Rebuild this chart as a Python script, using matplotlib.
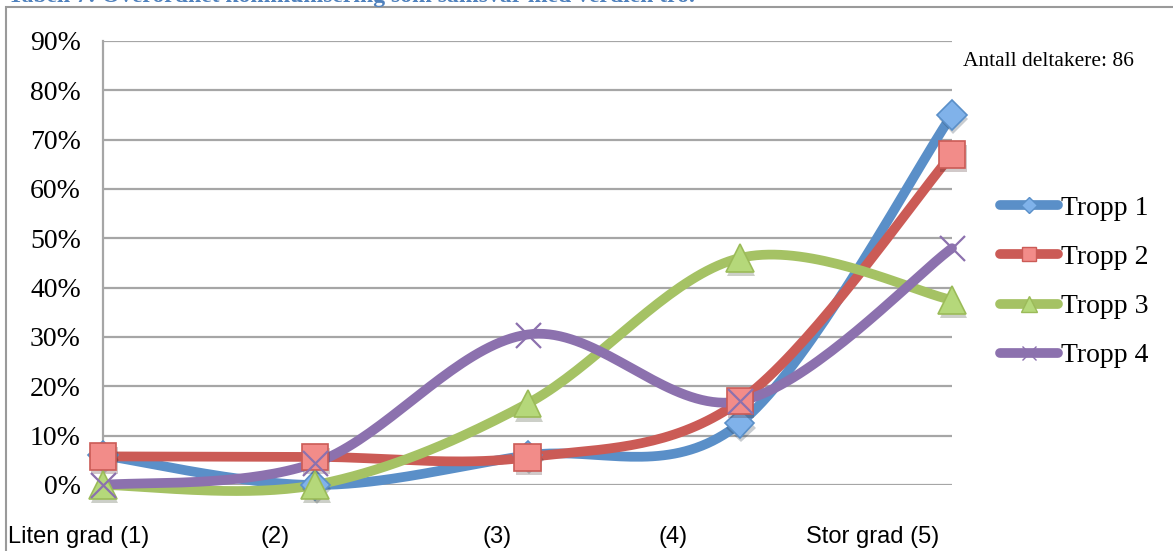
import numpy as np
import matplotlib

matplotlib.use('Agg')
import matplotlib.pyplot as plt
from matplotlib.lines import Line2D
from matplotlib.patches import Rectangle
import matplotlib.patheffects as pe

# Data (share of participants per answer category)
categories = [1, 2, 3, 4, 5]
cat_labels = ['Liten grad (1)', '(2)', '(3)', '(4)', 'Stor grad (5)']
tropp1 = [0.06, 0.00, 0.06, 0.125, 0.75]
tropp2 = [0.058, 0.057, 0.056, 0.17, 0.67]
tropp3 = [0.00, 0.00, 0.165, 0.46, 0.375]
tropp4 = [0.00, 0.045, 0.305, 0.17, 0.48]
names = ['Tropp 1', 'Tropp 2', 'Tropp 3', 'Tropp 4']
yticks = [0, 0.1, 0.2, 0.3, 0.4, 0.5, 0.6, 0.7, 0.8, 0.9]

line_colors = ['#5A8FC8', '#CB5B56', '#A5C264', '#8C71AE']
face_colors = ['#80B2EA', '#F28C89', '#B5D87A', '#8C71AE']
edge_colors = ['#5A8FC8', '#CB5B56', '#9BBB59', '#8C71AE']
markers = ['D', 's', '^', 'x']
msizes = [15, 19, 20, 18]

SERIF = ['Liberation Serif', 'DejaVu Serif']


def smooth(xs, ys, n=40):
    # excel style smoothed line (catmull-rom bezier)
    pts = np.column_stack([xs, ys]).astype(float)
    ext = np.vstack([pts[0], pts, pts[-1]])
    out = []
    t = np.linspace(0, 1, n)[:, None]
    for i in range(len(pts) - 1):
        p0, p1, p2, p3 = ext[i], ext[i + 1], ext[i + 2], ext[i + 3]
        b1 = p1 + (p2 - p0) / 6
        b2 = p2 - (p3 - p1) / 6
        seg = ((1 - t) ** 3) * p1 + 3 * ((1 - t) ** 2) * t * b1 + 3 * (1 - t) * t ** 2 * b2 + t ** 3 * p2
        out.append(seg if i == 0 else seg[1:])
    seg = np.vstack(out)
    return seg[:, 0], seg[:, 1]


fig = plt.figure(figsize=(11.73, 5.51), dpi=100)
ax = fig.add_axes([103 / 1173, 1 - 485 / 551, (952 - 103) / 1173, (485 - 41) / 551])

for yv in yticks:
    ax.axhline(yv, color='#A6A6A6', lw=1.6, zorder=1)

shadow = [pe.SimplePatchShadow(offset=(1, -3), alpha=0.25), pe.Normal()]
series = [tropp1, tropp2, tropp3, tropp4]
for i, vals in enumerate(series):
    sx, sy = smooth(categories, vals)
    ax.plot(sx, sy, color=line_colors[i], lw=7, solid_capstyle='round', zorder=2 + i,
            clip_on=False)
for i, vals in enumerate(series):
    mew = 1.6 if markers[i] == 'x' else 1.2
    ax.plot(categories, vals, ls='none', marker=markers[i], ms=msizes[i],
            mfc=face_colors[i], mec=edge_colors[i], mew=mew, zorder=10 + i, clip_on=False,
            path_effects=shadow if markers[i] != 'x' else None)

ax.set_xlim(1, 5)
ax.set_ylim(0, 0.9)
ax.set_yticks(yticks)
ax.set_yticklabels([f'{int(round(v * 100))}%' for v in yticks], family=SERIF, fontsize=20)
ax.tick_params(axis='y', length=0, pad=16)
ax.set_xticks([])
for s in ['top', 'right', 'bottom']:
    ax.spines[s].set_visible(False)
ax.spines['left'].set_color('#A6A6A6')
ax.spines['left'].set_linewidth(1.6)
ax.patch.set_alpha(0)

# legend
handles = []
for i in range(4):
    handles.append(Line2D([], [], color=line_colors[i], lw=7, solid_capstyle='round',
                          marker=markers[i], ms=msizes[i] * 0.55, mfc=face_colors[i],
                          mec=edge_colors[i], mew=1))
leg = fig.legend(handles, names, loc='center left', bbox_to_anchor=(975 / 1173, 1 - 282 / 551),
                 frameon=False, prop={'family': SERIF, 'size': 20}, handlelength=2.1,
                 handletextpad=0.1, labelspacing=0.85)

fig.text(963 / 1173, 1 - 62 / 551, 'Antall deltakere: 86', family=SERIF, fontsize=15.5,
         ha='left', va='center')

label_x = [8, 260, 482, 658, 806]
for lx, lab in zip(label_x, cat_labels):
    fig.text(lx / 1173, 1 - 537 / 551, lab, family=['Liberation Sans Narrow', 'Liberation Sans'],
             fontsize=17, ha='left', va='center')

# outer chart frame and clipped caption above it
fig.patches.append(Rectangle((6 / 1173, -0.2), 1.2, 1.2 - 7 / 551, transform=fig.transFigure,
                             fill=False, ec='#9A9A9A', lw=1.5))
fig.text(8 / 1173, 1 - 2 / 551, 'Tabell 7: Overordnet kommunisering som samsvar med verdien tro.',
         family=SERIF, fontsize=17, fontweight='bold', color='#4F81BD', ha='left', va='baseline')

fig.savefig('out.png', dpi=100)
